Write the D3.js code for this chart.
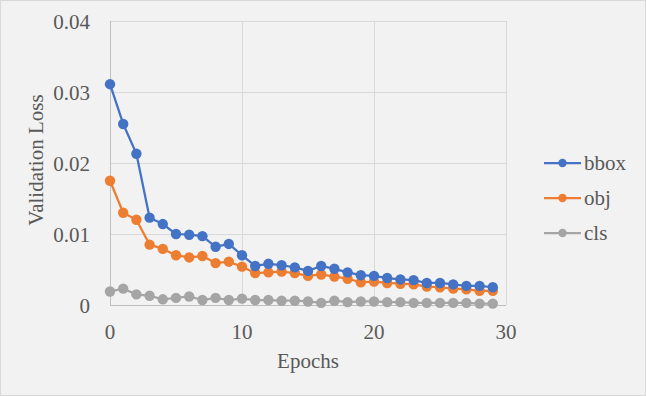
<!DOCTYPE html>
<html><head><meta charset="utf-8">
<script src="https://cdn.jsdelivr.net/npm/d3@7"></script>
<style>body{margin:0;background:#fff}svg{display:block}</style>
</head><body>
<svg id="c" width="646" height="396"></svg>
<script>
const epochs = d3.range(0, 30);
const bbox = [0.0311,0.0255,0.0213,0.0123,0.0114,0.0100,0.0099,0.0097,0.0082,0.0086,0.0070,0.0055,0.0058,0.0056,0.0053,0.0048,0.0055,0.0051,0.0046,0.0042,0.0041,0.0038,0.0036,0.0035,0.0031,0.0031,0.0029,0.0027,0.0027,0.0025];
const obj = [0.0175,0.0130,0.0120,0.0085,0.0079,0.0070,0.0067,0.0069,0.0059,0.0061,0.0054,0.0045,0.0046,0.0047,0.0045,0.0041,0.0043,0.0040,0.0037,0.0032,0.0033,0.0031,0.0030,0.0029,0.0026,0.0025,0.0023,0.0022,0.0020,0.0020];
const cls = [0.0019,0.0023,0.0015,0.0013,0.0008,0.0010,0.0012,0.0007,0.0010,0.0007,0.0009,0.0007,0.0007,0.0006,0.0006,0.0005,0.0003,0.0006,0.0004,0.0005,0.0005,0.0004,0.0004,0.0003,0.0003,0.0003,0.0003,0.0003,0.0002,0.0002];
const seriesNames = ["bbox","obj","cls"];
const colors = ["#4472C4","#ED7D31","#A5A5A5"];
const xTicks = [0,10,20,30];
const yTicks = [0,0.01,0.02,0.03,0.04];
const yTickLabels = ["0","0.01","0.02","0.03","0.04"];

const svg = d3.select("#c");
const W = 646, H = 396;
svg.append("rect").attr("x",0.5).attr("y",0.5).attr("width",W-1).attr("height",H-1)
  .attr("fill","#f2f2f2").attr("stroke","#d9d9d9");

const L = 110, R = 506, T = 21, B = 305;
const x = d3.scaleLinear().domain([0,30]).range([L,R]);
const y = d3.scaleLinear().domain([0,0.04]).range([B,T]);
const font = "Liberation Serif, Times New Roman, serif";
const txt = "#595959";
const fs = 21;

// gridlines
const g = svg.append("g");
g.selectAll(".hg").data(yTicks).join("line")
  .attr("x1",L).attr("x2",R).attr("y1",d=>Math.round(y(d))+0.5).attr("y2",d=>Math.round(y(d))+0.5)
  .attr("stroke","#d9d9d9").attr("stroke-width",1);
g.selectAll(".vg").data(xTicks).join("line")
  .attr("y1",T).attr("y2",B).attr("x1",d=>Math.round(x(d))+0.5).attr("x2",d=>Math.round(x(d))+0.5)
  .attr("stroke","#d9d9d9").attr("stroke-width",1);
// axis lines
svg.append("line").attr("x1",L+0.5).attr("x2",L+0.5).attr("y1",T).attr("y2",B+0.5).attr("stroke","#bfbfbf");
svg.append("line").attr("x1",L).attr("x2",R).attr("y1",B+0.5).attr("y2",B+0.5).attr("stroke","#bfbfbf");

// tick labels
svg.selectAll(".yt").data(yTicks).join("text")
  .attr("x",90).attr("y",d=>y(d)+7.5).attr("text-anchor","end")
  .style("font-family",font).attr("font-size",fs).attr("fill",txt)
  .text((d,i)=>yTickLabels[i]);
svg.selectAll(".xt").data(xTicks).join("text")
  .attr("x",d=>x(d)).attr("y",339).attr("text-anchor","middle")
  .style("font-family",font).attr("font-size",fs).attr("fill",txt)
  .text(d=>d);

svg.append("text").attr("transform","translate(43,160) rotate(-90)").attr("text-anchor","middle")
  .style("font-family",font).attr("font-size",fs).attr("fill",txt).text("Validation Loss");
svg.append("text").attr("x",308).attr("y",368).attr("text-anchor","middle")
  .style("font-family",font).attr("font-size",fs).attr("fill",txt).text("Epochs");

// series
const data = [bbox,obj,cls];
const line = d3.line().x((d,i)=>x(epochs[i])).y(d=>y(d));
[2,1,0].forEach(k=>{
  const s = svg.append("g");
  s.append("path").datum(data[k]).attr("d",line).attr("fill","none")
    .attr("stroke",colors[k]).attr("stroke-width",2.25).attr("stroke-linejoin","round");
  s.selectAll("circle").data(data[k]).join("circle")
    .attr("cx",(d,i)=>x(epochs[i])).attr("cy",d=>y(d)).attr("r",5.2).attr("fill",colors[k]);
});

// legend
const lg = svg.append("g");
seriesNames.forEach((n,i)=>{
  const yy = 163 + i*35;
  lg.append("line").attr("x1",544).attr("x2",581).attr("y1",yy).attr("y2",yy)
    .attr("stroke",colors[i]).attr("stroke-width",2.25);
  lg.append("circle").attr("cx",562.5).attr("cy",yy).attr("r",4.2).attr("fill",colors[i]);
  lg.append("text").attr("x",584).attr("y",yy+7).style("font-family",font).attr("font-size",fs)
    .attr("fill",txt).text(n);
});
</script>
</body></html>
